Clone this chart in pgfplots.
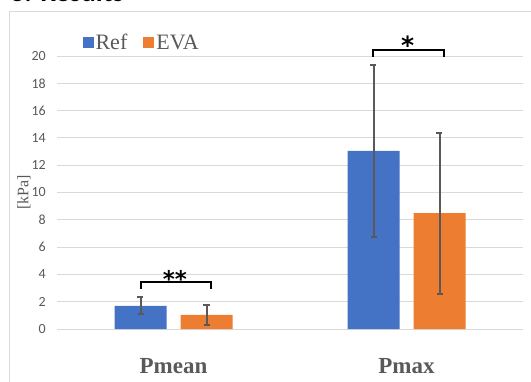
\documentclass[border=0pt]{standalone}
\usepackage{fontspec}
\setmainfont{Liberation Serif}
\newfontfamily\carlito{Carlito}
\newfontfamily\dejavu{DejaVu Sans}
\usepackage{pgfplots}
\pgfplotsset{compat=1.18}
\definecolor{refblue}{HTML}{4472C4}
\definecolor{evaorange}{HTML}{ED7D31}
\definecolor{txtgray}{HTML}{595959}
\definecolor{gridgray}{HTML}{D9D9D9}
\begin{document}
\begin{tikzpicture}
\useasboundingbox (0,0) rectangle (531pt,381pt);
\draw[gridgray, line width=1pt] (9pt,-20pt) rectangle (560pt,369pt);
\node[anchor=base west, font=\carlito\bfseries\fontsize{28}{30}\selectfont, text=black, inner sep=0pt] at (10pt,379.5pt) {3. Results};
\begin{axis}[
  at={(57pt,52pt)}, anchor=south west, scale only axis,
  width=466pt, height=273pt,
  ymin=0, ymax=20, xmin=-0.5, xmax=1.5,
  ybar=14pt, bar width=52pt,
  axis line style={draw=none},
  ymajorgrids, grid style={gridgray, line width=1pt},
  ytick={0,2,...,20},
  xtick={0,1}, xticklabels={Pmean, Pmax},
  major tick length=0pt,
  /pgf/number format/assume math mode=true,
  yticklabel style={font=\carlito\fontsize{14}{16}\selectfont, text=txtgray, anchor=east, inner sep=0pt, xshift=-11pt},
  xticklabel style={font=\bfseries\fontsize{23}{26}\selectfont, text=txtgray, anchor=base, inner sep=0pt, yshift=-44pt},
  ylabel={[kPa]},
  ylabel style={font=\fontsize{16}{18}\selectfont, text=txtgray, at={(axis description cs:-0.071,0.5)}, anchor=center, rotate=0},
  legend style={draw=none, fill=none, legend columns=2, at={(axis description cs:0.048,1.048)}, anchor=west,
    font=\fontsize{22}{24}\selectfont, text=txtgray,
    /tikz/every even column/.append style={column sep=14pt}},
  legend image code/.code={\fill[#1, draw=none] (0pt,-5.5pt) rectangle (11pt,5.5pt);},
  clip=false,
]
\addplot[fill=refblue, draw=none,
  error bars/.cd, y dir=both, y explicit,
  error bar style={txtgray, line width=2pt},
  error mark options={txtgray, line width=2pt, mark size=3pt, rotate=90}]
  coordinates {(0,1.70) +- (0,0.62) (1,13.05) +- (0,6.30)};
\addlegendentry{Ref}
\addplot[fill=evaorange, draw=none,
  error bars/.cd, y dir=both, y explicit,
  error bar style={txtgray, line width=2pt},
  error mark options={txtgray, line width=2pt, mark size=3pt, rotate=90}]
  coordinates {(0,1.03) +- (0,0.71) (1,8.48) +- (0,5.90)};
\addlegendentry{EVA}
\draw[black, line width=2pt] (axis cs:-0.14,2.95) -- (axis cs:-0.14,3.47) -- (axis cs:0.16,3.47) -- (axis cs:0.16,2.95);
\draw[black, line width=2pt] (axis cs:0.856,19.95) -- (axis cs:0.856,20.44) -- (axis cs:1.16,20.44) -- (axis cs:1.16,19.95);
\node[font=\dejavu\bfseries\fontsize{23}{25}\selectfont, inner sep=0pt, anchor=base] at (axis cs:0.006,3.05) {**};
\node[font=\dejavu\bfseries\fontsize{25}{27}\selectfont, inner sep=0pt, anchor=base] at (axis cs:1.005,20.12) {*};
\end{axis}
\end{tikzpicture}
\end{document}
